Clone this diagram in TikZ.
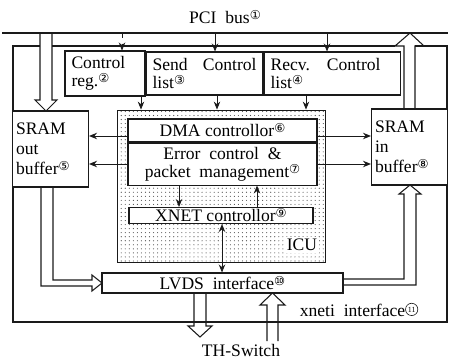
\documentclass[tikz,border=0pt]{standalone}
\usepackage{fontspec}
\setmainfont{Liberation Serif}
\newfontfamily\circfont{DejaVu Sans}
\usepackage{xcolor}
\definecolor{cLine}{HTML}{1A1A1A}
\definecolor{cDot}{HTML}{4D4D4D}
\usepackage{tikz}
\usetikzlibrary{positioning,arrows.meta,patterns.meta,calc}
\newcommand{\cnum}[1]{{\circfont\fontsize{7}{7}\selectfont\raisebox{0.6ex}{#1}}}
\newcommand{\cnumbig}[1]{\raisebox{0.6ex}{\tikz[baseline=(c.base)]\node[circle,draw=cLine,
  line width=0.35pt,inner sep=0.1pt,minimum size=7pt,font=\fontsize{4.5}{4.5}\selectfont] (c) {#1};}}
\tikzset{
  node-box/.style={draw=cLine,line width=0.6pt,fill=white,inner sep=1.5pt,
    font=\fontsize{10}{10.5}\selectfont,align=center},
  node-reg/.style={node-box,align=left,minimum height=0.86cm,inner sep=3pt},
  node-sram/.style={node-box,align=left,minimum width=1.5cm,minimum height=1.52cm,
    text width=1.38cm,inner sep=2pt,font=\fontsize{10}{11.5}\selectfont},
  node-icu/.style={draw=cLine,line width=0.5pt,minimum width=4.16cm,minimum height=3.04cm,
    pattern={Dots[distance=2.3pt,radius=0.32pt]},pattern color=cDot},
  node-text/.style={inner sep=1pt,font=\fontsize{10}{11}\selectfont},
  arrow/.style={-{Stealth[length=1.6mm,width=1.3mm]},line width=0.5pt,draw=cLine},
  arrow-both/.style={{Stealth[length=1.6mm,width=1.3mm]}-{Stealth[length=1.6mm,width=1.3mm]},
    line width=0.5pt,draw=cLine},
  arrow-dash/.style={arrow,dashed,line width=0.4pt},
  bus-line/.style={line width=0.9pt,draw=cLine},
  board-line/.style={line width=0.6pt,draw=cLine},
  hollow/.style={line width=0.6pt,draw=cLine,line join=miter},
}
\begin{document}
\begin{tikzpicture}[x=0.02cm,y=-0.02cm]
  \useasboundingbox (0,0) rectangle (450,362);
  % PCI bus and board outline
  \node[node-text] (pci-label) at (225,17) {PCI\ \ bus\cnum{①}};
  \coordinate (pci-l) at (2,33);
  \coordinate (pci-r) at (448,33);
  \draw[bus-line] (pci-l) -- (pci-r);
  \draw[board-line] (40,46) -- (13,46) -- (13,322) -- (447,322) -- (447,46) -- (415,46);
  \draw[board-line] (52,46) -- (395,46);
  % ICU block
  \node[node-icu] (icu) at (221,186) {};
  \node[node-text,fill=white] (icu-label) at (302,245) {ICU};
  \node[node-box,minimum width=3.78cm,minimum height=0.46cm] (dma) at (222.5,130.5) {DMA controllor\cnum{⑥}};
  \node[node-box,minimum width=3.78cm,minimum height=0.84cm,below=0pt of dma] (error)
    {Error\ \ control\ \ \&\\packet\ \ management\cnum{⑦}};
  \node[node-box,minimum width=3.68cm,minimum height=0.32cm,inner sep=0pt] (xnet) at (221,215.5) {XNET controllor\cnum{⑨}};
  \node[node-box,minimum width=4.82cm,minimum height=0.4cm] (lvds) at (222.5,283) {LVDS\ \ interface\cnum{⑩}};
  % registers and lists
  \node[node-reg,minimum width=1.6cm,text width=1.34cm] (ctrlreg) at (105,73.5) {Control\\reg.\cnum{②}};
  \node[node-reg,minimum width=2.34cm,text width=2.08cm,right=0pt of ctrlreg] (sendlist)
    {Send\hfill Control\\list\cnum{③}};
  \node[node-reg,minimum width=2.72cm,text width=2.46cm,right=0pt of sendlist] (recvlist)
    {\makebox[2.2cm][l]{Recv.\hfill Control}\\list\cnum{④}};
  % buffers
  \node[node-sram] (sramout) at (50.5,149) {SRAM\\out\\buffer\cnum{⑤}};
  \node[node-sram] (sramin) at (409.5,147) {SRAM\\in\\buffer\cnum{⑧}};
  % PCI bus to registers
  \draw[arrow-dash] (pci-l -| 122,0) -- (ctrlreg.north -| 122,0);
  \draw[arrow] (pci-l -| 215,0) -- (sendlist.north -| 215,0);
  \draw[arrow] (pci-l -| 327,0) -- (recvlist.north -| 327,0);
  % registers to ICU
  \draw[arrow] (ctrlreg.south -| 141,0) -- (icu.north -| 141,0);
  \draw[arrow] (sendlist.south -| 217,0) -- (icu.north -| 217,0);
  \draw[arrow] (recvlist.south -| 306,0) -- (icu.north -| 306,0);
  % ICU to buffers
  \draw[arrow] (dma.west |- 0,136) -- (sramout.east |- 0,136);
  \draw[arrow] (error.west |- 0,164) -- (sramout.east |- 0,164);
  \draw[arrow] (dma.east |- 0,136) -- (sramin.west |- 0,136);
  \draw[arrow] (error.east |- 0,164) -- (sramin.west |- 0,164);
  % inside ICU
  \draw[arrow] (error.south -| 179,0) -- (xnet.north -| 179,0);
  \draw[arrow] (xnet.north -| 257,0) -- (error.south -| 257,0);
  \draw[arrow-both] (xnet.south -| 222,0) -- (lvds.north -| 222,0);
  % hollow arrows
  \draw[hollow] (40,33) -- (40,100) -- (35,100) -- (46,111) -- (57,100) -- (52,100) -- (52,33);
  \draw[hollow] (404,109) -- (404,46) -- (395,46) -- (410,33) -- (424,46) -- (415,46) -- (415,109);
  \draw[hollow] (41,187) -- (41,286) -- (92,286) -- (92,291) -- (102,283) -- (92,275) -- (92,280) -- (53,280) -- (53,187);
  \draw[hollow] (343,279) -- (404,279) -- (404,194) -- (399,194) -- (410,185) -- (421,194) -- (416,194) -- (416,285) -- (343,285);
  \draw[hollow] (194,293) -- (194,326) -- (188,326) -- (200,337) -- (212,326) -- (206,326) -- (206,293);
  \draw[hollow] (267,341) -- (267,305) -- (260,305) -- (272.5,293) -- (285,305) -- (278,305) -- (278,341);
  % outside labels
  \node[node-text] (th-label) at (241,350) {TH-Switch};
  \node[node-text] (xneti-label) at (359,310) {xneti\ \ interface\cnumbig{11}};
\end{tikzpicture}
\end{document}
